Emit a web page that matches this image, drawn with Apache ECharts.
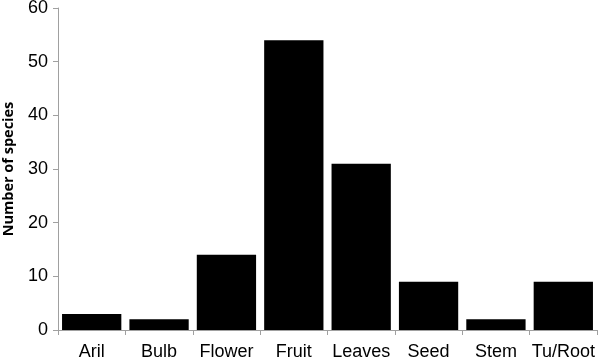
<!DOCTYPE html>
<html>
<head>
<meta charset="utf-8">
<script src="https://cdn.jsdelivr.net/npm/echarts@6/dist/echarts.min.js"></script>
<style>html,body{margin:0;padding:0;background:#fff}#c{width:600px;height:361px}</style>
</head>
<body>
<div id="c"></div>
<script>
const categories = ["Aril", "Bulb", "Flower", "Fruit", "Leaves", "Seed", "Stem", "Tu/Root"];
const speciesCounts = [3, 2, 14, 54, 31, 9, 2, 9];
const yTicks = [0, 10, 20, 30, 40, 50, 60];

const chart = echarts.init(document.getElementById('c'), null, {renderer: 'canvas'});
chart.setOption({
  animation: false,
  backgroundColor: '#fff',
  grid: {left: 58, right: 3, top: 8, bottom: 31, containLabel: false, outerBoundsMode: 'none'},
  xAxis: {
    type: 'category',
    data: categories,
    boundaryGap: true,
    axisLine: {lineStyle: {color: '#a0a0a0', width: 1}},
    axisTick: {show: true, length: 5, inside: false, lineStyle: {color: '#a0a0a0'}},
    axisLabel: {color: '#000', fontFamily: 'Liberation Sans', fontSize: 18, margin: 13, interval: 0}
  },
  yAxis: {
    type: 'value',
    min: yTicks[0],
    max: yTicks[yTicks.length - 1],
    interval: 10,
    name: 'Number of species',
    nameLocation: 'middle',
    nameGap: 42,
    nameTextStyle: {color: '#000', fontFamily: 'Open Sans', fontWeight: 'bold', fontSize: 14.5},
    axisLine: {show: true, lineStyle: {color: '#a0a0a0', width: 1}},
    axisTick: {show: true, length: 5, lineStyle: {color: '#a0a0a0'}},
    splitLine: {show: false},
    axisLabel: {color: '#000', fontFamily: 'Liberation Sans', fontSize: 18, margin: 10}
  },
  series: [{
    type: 'bar',
    data: speciesCounts,
    barCategoryGap: '12%',
    itemStyle: {color: '#000'}
  }]
});
</script>
</body>
</html>
